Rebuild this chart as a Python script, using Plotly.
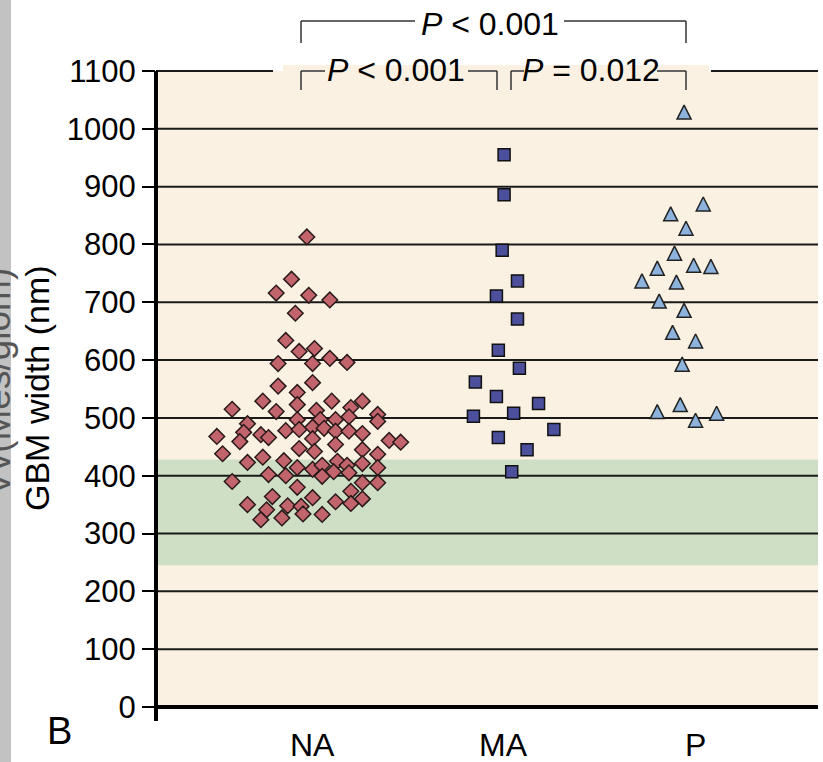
import plotly.graph_objects as go

# ---------------- data ----------------
categories = ["NA", "MA", "P"]

# GBM width (nm) for each patient, and horizontal jitter (hundredths of category spacing)
na_values = [813, 740, 716, 712, 704, 681, 634, 615, 620, 603, 596, 594, 594,
             555, 561, 544, 529, 529, 529, 515, 511, 523, 513, 518, 506,
             490, 497, 497, 497, 502, 494, 475, 471, 466, 478, 480, 484, 482,
             477, 477, 473, 468, 459, 464, 454, 461, 458, 438, 447, 442, 445,
             437, 423, 432, 426, 414, 411, 418, 425, 418, 421, 414, 402, 400,
             399, 407, 405, 390, 388, 388, 380, 373, 364, 362, 355, 360, 352,
             350, 348, 347, 341, 324, 327, 334, 333]
na_jitter = [2, -6, -14, 3, 14, -4, -9, -2, 6, 14, 23, -13, 5,
             -13, 5, -3, -21, 15, 31, -37, -14, -3, 7, 25, 39,
             -29, -3, 9, 17, 24, 39, -31, -22, -18, -9, -2, 5, 11,
             17, 24, 31, -45, -33, 5, 17, 45, 51, -42, -2, 6, 31,
             39, -29, -21, -10, -3, 5, 10, 18, 23, 31, 39, -18, -9,
             10, 16, 24, -37, 31, 39, -3, 25, -16, 5, 17, 31, 25,
             -29, -8, -1, -19, -22, -11, 0, 10]

ma_values = [955, 886, 790, 737, 711, 671, 617, 586, 562, 537, 525, 503, 508,
             480, 466, 445, 407]
ma_jitter = [5, 5, 4, 12, 1, 12, 2, 13, -10, 1, 23, -11, 10, 31, 2, 17, 9]

p_values = [1029, 870, 853, 828, 785, 759, 764, 762, 737, 735, 702, 686, 648,
            633, 593, 523, 511, 508, 496]
p_jitter = [-1, 9, -8, 0, -6, -15, 4, 13, -23, -5, -14, -1, -7, 5, -2, -3, -15, 16, 5]

y_ticks = list(range(0, 1200, 100))
normal_range = [245, 428]
comparisons = ["<i>P</i> &lt; 0.001", "<i>P</i> &lt; 0.001", "<i>P</i> = 0.012"]

# ---------------- layout helpers (pixel geometry of the frame) ----------------
W, H = 823, 762
L, R, T, B = 156, 818, 71, 707
def px(x):
    return (x - L) / (R - L)
def py(y):
    return (B - y) / (B - T)

FONT = "Liberation Sans, Arial, Helvetica, sans-serif"
BEIGE = "#faf1e2"
GREEN = "#cfdfc6"

fig = go.Figure()

def add_group(idx, vals, jit, symbol, size, fill, edge, extra=None):
    marker = dict(symbol=symbol, size=size, color=fill, line=dict(color=edge, width=1.5))
    if extra:
        marker.update(extra)
    fig.add_trace(go.Scatter(
        x=[idx + j / 100 for j in jit], y=vals, mode="markers",
        marker=marker, showlegend=False, hoverinfo="y"))

add_group(1, na_values, na_jitter, "diamond", 12, "#c2646c", "#2a1a1a")
add_group(2, ma_values, ma_jitter, "square", 12, "#4b4f9c", "#111111")
add_group(3, p_values, p_jitter, "arrow-down", 14, "#8db3dd", "#222222",
          extra=dict(angle=180, standoff=7))

shapes = []
# grey strip at left edge
shapes.append(dict(type="rect", xref="paper", yref="paper", x0=px(0), x1=px(11),
                   y0=py(H), y1=py(0), fillcolor="#c2c2c2", line=dict(width=0), layer="below"))
# beige extension above the frame behind the brackets
shapes.append(dict(type="rect", xref="paper", yref="paper", x0=px(283), x1=px(709),
                   y0=py(71), y1=py(65), fillcolor=BEIGE, line=dict(width=0), layer="below"))
# normal range band
shapes.append(dict(type="rect", xref="paper", yref="y", x0=0, x1=1,
                   y0=normal_range[0], y1=normal_range[1], fillcolor=GREEN,
                   line=dict(width=0), layer="below"))
# gridlines
for v in y_ticks[1:-1]:
    shapes.append(dict(type="line", xref="paper", yref="y", x0=0, x1=1, y0=v, y1=v,
                       line=dict(color="#1a1a1a", width=2), layer="below"))
# broken top gridline
for a, b in [(156, 273), (711, 818)]:
    shapes.append(dict(type="line", xref="paper", yref="paper", x0=px(a), x1=px(b),
                       y0=1, y1=1, line=dict(color="#1a1a1a", width=2)))
# thick axes
shapes.append(dict(type="line", xref="paper", yref="paper", x0=0, x1=0, y0=1, y1=py(721),
                   line=dict(color="black", width=4)))
shapes.append(dict(type="line", xref="paper", yref="paper", x0=px(154), x1=1, y0=0, y1=0,
                   line=dict(color="black", width=4)))

# significance brackets: (left, right, y-top, y-bottom, text gap)
brackets = [(301, 686, 21, 43, (415, 564)),
            (301, 497, 71, 90, (325, 468)),
            (511, 686, 71, 90, (524, 657))]
BR = dict(color="#333333", width=1.5)
for (xa, xb, yt, yb, gap) in brackets:
    for a, b in [(xa, gap[0]), (gap[1], xb)]:
        shapes.append(dict(type="line", xref="paper", yref="paper", x0=px(a), x1=px(b),
                           y0=py(yt), y1=py(yt), line=BR))
    for xx in (xa, xb):
        shapes.append(dict(type="line", xref="paper", yref="paper", x0=px(xx), x1=px(xx),
                           y0=py(yt), y1=py(yb), line=BR))

def ann(text, x, y, size, xref="paper", color="black", **kw):
    d = dict(text=text, xref=xref, yref="paper", x=x, y=y, showarrow=False,
             xanchor="center", yanchor="middle",
             font=dict(family=FONT, size=size, color=color))
    d.update(kw)
    return d

annotations = []
for txt, (cx, cy) in zip(comparisons, [(490, 24), (396, 70), (591, 70)]):
    annotations.append(ann(txt, px(cx), py(cy), 32))
for i, c in enumerate(categories):
    annotations.append(ann(c, i + 1, py(745), 32, xref="x", xshift=9))
annotations.append(ann("GBM width (nm)", px(37), py(388), 34, textangle=-90))
annotations.append(ann("B", px(59), py(731), 38))
# partially cropped label from the neighbouring panel
annotations.append(ann("Vv(Mes/glom)", px(-2), py(382), 37, color="#555555", textangle=-90))

fig.update_layout(
    width=W, height=H,
    margin=dict(l=L, r=W - R, t=T, b=H - B, pad=0),
    paper_bgcolor="white", plot_bgcolor=BEIGE,
    shapes=shapes, annotations=annotations,
    xaxis=dict(range=[1 - (303 - L) / 191.5, 3 + (R - 686) / 191.5], showgrid=False,
               zeroline=False, showticklabels=False, ticks="", showline=False, fixedrange=True),
    yaxis=dict(range=[0, 1100], tickvals=y_ticks, showgrid=False, zeroline=False,
               ticks="outside", ticklen=13, tickwidth=2, tickcolor="black",
               tickfont=dict(family=FONT, size=31, color="black"), showline=False,
               fixedrange=True),
)

fig.write_html("out.html", config={"displayModeBar": False},
               post_script="document.body.style.margin='0';")
